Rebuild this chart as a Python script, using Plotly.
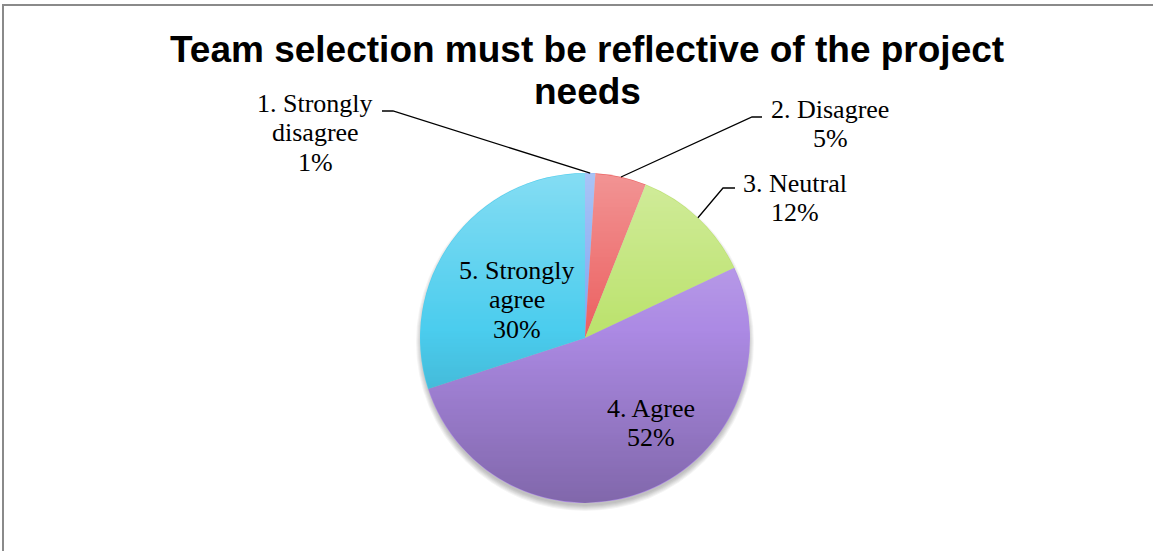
import math
import plotly.graph_objects as go

# Survey responses
categories = ["1. Strongly disagree", "2. Disagree", "3. Neutral", "4. Agree", "5. Strongly agree"]
shares = [1, 5, 12, 52, 30]
label_lines = [["1. Strongly", "disagree"], ["2. Disagree"], ["3. Neutral"], ["4. Agree"], ["5. Strongly", "agree"]]
title_lines = ["Team selection must be reflective of the project", "needs"]
slice_colors = ["#80a8f2", "#ec6262", "#bce36e", "#ac8ae4", "#4bcdee"]

W, H = 1153, 551
CX, CY, R = 585, 338, 165          # pie centre and radius in pixels
LABEL_FS = 26
LINE_GAP = 29.5
TITLE_FS = 37
TITLE_BASES = [62, 104]            # title line baselines (px from top)

# first-line baseline and horizontal centre of each data label
label_pos = [(315, 112), (830, 118), (795, 192), (651, 417), (517, 279)]
# leader lines for outside labels: elbow (x, y) and end x of the short horizontal tick
leaders = {0: (393, 111, 382), 1: (752, 117, 762), 2: (723, 188, 735)}


def px(x):
    return x / W


def py(y):
    return 1 - y / H


fig = go.Figure(go.Pie(
    labels=categories,
    values=shares,
    sort=False,
    direction="clockwise",
    rotation=0,
    marker=dict(colors=slice_colors, line=dict(width=0)),
    textinfo="none",
    hoverinfo="label+percent",
    domain=dict(x=[px(CX - R), px(CX + R)], y=[py(CY + R), py(CY - R)]),
    showlegend=False,
))

shapes = []

# soft drop shadow under the pie
for k in range(6):
    rr = R + k - 1
    shapes.append(dict(
        type="circle", xref="paper", yref="paper", layer="below",
        x0=px(CX - rr), x1=px(CX + rr), y0=py(CY + 4 + rr), y1=py(CY + 4 - rr),
        fillcolor="rgba(0,0,0,0.045)", line=dict(width=0),
    ))

# vertical light-to-dark shading laid over the pie
def shade(y):
    if y < 330:
        return "rgba(255,255,255,%.3f)" % (0.32 * (330 - y) / 157)
    return "rgba(0,0,0,%.3f)" % (0.25 * (y - 330) / 173)


def half_width(y):
    d = y - CY
    return math.sqrt(max((R - 0.6) ** 2 - d * d, 0.0))


step = 2
y = CY - R
while y < CY + R:
    y0, y1 = y, min(y + step, CY + R)
    w0, w1 = half_width(y0), half_width(y1)
    path = "M %f,%f L %f,%f L %f,%f L %f,%f Z" % (
        px(CX - w0), py(y0), px(CX + w0), py(y0),
        px(CX + w1), py(y1), px(CX - w1), py(y1))
    shapes.append(dict(type="path", xref="paper", yref="paper", layer="above",
                       path=path, fillcolor=shade((y0 + y1) / 2), line=dict(width=0)))
    y += step

# leader lines from slice edge midpoints to outside labels
total = sum(shares)
cum = 0
for i, v in enumerate(shares):
    theta = 2 * math.pi * (cum + v / 2) / total
    cum += v
    if i not in leaders:
        continue
    ex, ey = CX + R * math.sin(theta), CY - R * math.cos(theta)
    bx, by, tx = leaders[i]
    path = "M %f,%f L %f,%f L %f,%f" % (px(ex), py(ey), px(bx), py(by), px(tx), py(by))
    shapes.append(dict(type="path", xref="paper", yref="paper", path=path,
                       line=dict(color="black", width=1.3)))

# chart frame
shapes.append(dict(type="rect", xref="paper", yref="paper",
                   x0=px(3), x1=px(W + 10), y0=py(H + 10), y1=py(5),
                   line=dict(color="#8a8a8a", width=2), fillcolor="rgba(0,0,0,0)"))

annotations = []

# chart title, one line per annotation
for t, b in zip(title_lines, TITLE_BASES):
    annotations.append(dict(
        text="<b>%s</b>" % t, xref="paper", yref="paper",
        x=px(587), y=py(b - 0.3465 * TITLE_FS), xanchor="center", yanchor="middle",
        showarrow=False,
        font=dict(family="Liberation Sans, Arial, sans-serif", size=TITLE_FS, color="black"),
    ))

# data labels: category name lines plus percentage
for i, v in enumerate(shares):
    lines = label_lines[i] + ["%d%%" % round(100 * v / total)]
    cx, base = label_pos[i]
    for j, t in enumerate(lines):
        b = base + j * LINE_GAP
        annotations.append(dict(
            text=t, xref="paper", yref="paper", x=px(cx), y=py(b - 0.3375 * LABEL_FS),
            xanchor="center", yanchor="middle", showarrow=False,
            font=dict(family="Liberation Serif, serif", size=LABEL_FS, color="black"),
        ))

fig.update_layout(
    width=W, height=H,
    margin=dict(l=0, r=0, t=0, b=0),
    paper_bgcolor="white", plot_bgcolor="white",
    shapes=shapes,
    annotations=annotations,
)

fig.write_html("out.html")
